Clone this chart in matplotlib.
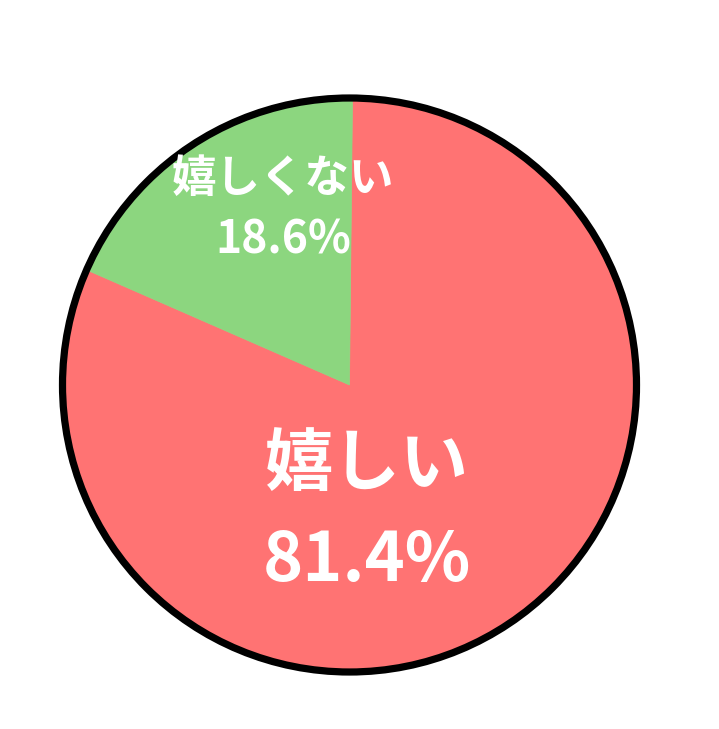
import matplotlib.pyplot as plt
from matplotlib.patches import Circle

plt.rcParams['font.family'] = ['Noto Sans CJK JP', 'DejaVu Sans']

# data
labels = ['嬉しい', '嬉しくない']
values = [81.4, 18.6]
colors = ['#FF7373', '#8CD67F']

W, H = 719, 729
cx, cy, r = 349.5, 729 - 385, 287

fig = plt.figure(figsize=(W / 100, H / 100), dpi=100)
ax = fig.add_axes([0, 0, 1, 1])

wedges, _ = ax.pie(values, colors=colors, startangle=89.4, counterclock=False,
                   center=(cx, cy), radius=r, frame=True,
                   wedgeprops=dict(linewidth=0.5))
for w, c in zip(wedges, colors):
    w.set_edgecolor(c)
ax.set_xlim(0, W)
ax.set_ylim(0, H)
ax.set_aspect('equal')
ax.axis('off')

# outer ring
ax.add_patch(Circle((cx, cy), r, facecolor='none', edgecolor='black', linewidth=5.2, zorder=5))

# labels
ax.text(367, H - 465, labels[0], color='white', fontsize=49, fontweight='bold',
        ha='center', va='center', zorder=6)
ax.text(367, H - 561, f'{values[0]}%', color='white', fontsize=49, fontweight='bold',
        ha='center', va='center', zorder=6)
ax.text(283, H - 178.5, labels[1], color='white', fontsize=32, fontweight='bold',
        ha='center', va='center', zorder=6)
ax.text(283, H - 240, f'{values[1]}%', color='white', fontsize=32, fontweight='bold',
        ha='center', va='center', zorder=6)

fig.savefig('out.png', dpi=100, facecolor='white')
